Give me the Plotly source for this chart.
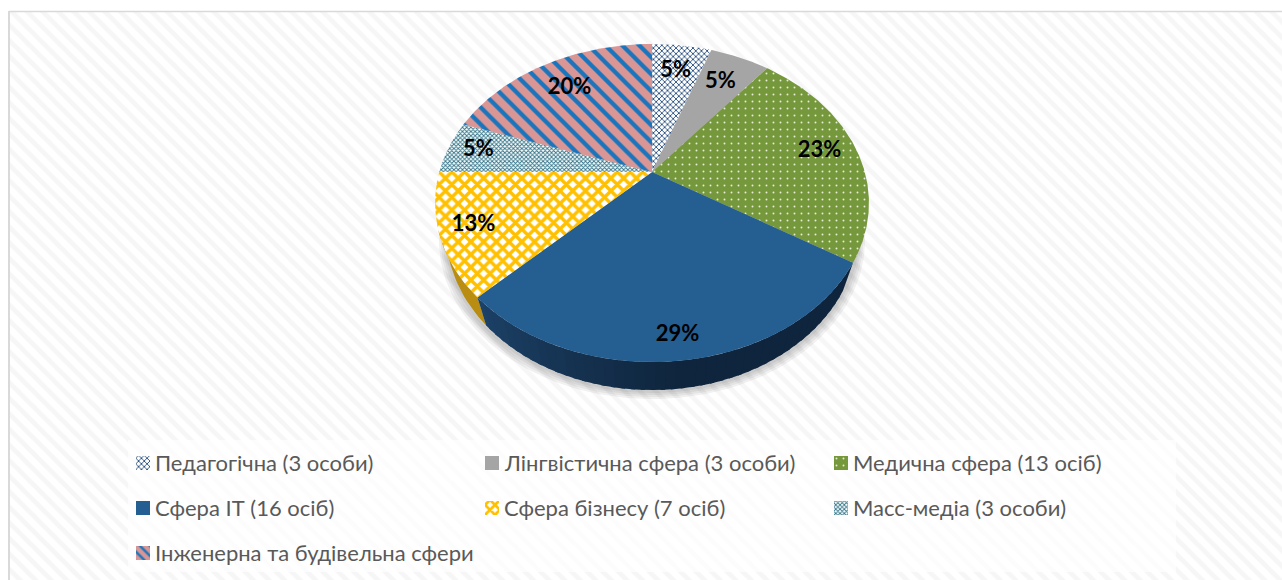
import numpy as np
import plotly.graph_objects as go

# ---- data ----
categories = ["Педагогічна (3 особи)", "Лінгвістична сфера (3 особи)", "Медична сфера (13 осіб)",
              "Сфера ІТ (16 осіб)", "Сфера бізнесу (7 осіб)", "Масс-медіа (3 особи)",
              "Інженерна та будівельна сфери"]
values = [3, 3, 13, 16, 7, 3, 11]

# ---- style ----
patterns = [
    dict(shape="x", fgcolor="#264d7e", bgcolor="#ffffff", size=4, solidity=0.4, fgopacity=1),
    None,
    dict(shape=".", fgcolor="#e6ecd6", bgcolor="#76983c", size=7, solidity=0.06, fgopacity=1),
    None,
    dict(shape="x", fgcolor="#ffc000", bgcolor="#ffffff", size=9, solidity=0.62, fgopacity=1),
    dict(shape="x", fgcolor="#2f7388", bgcolor="#ffffff", size=3, solidity=0.5, fgopacity=1),
    dict(shape="\\", fgcolor="#1b75bc", bgcolor="#d99694", size=12, solidity=0.36, fgopacity=1),
]
solid = ["#ffffff", "#a5a5a5", "#76983c", "#255e91", "#ffc000", "#7fb0bd", "#d99694"]
label_radius = [0.76, 0.75, 0.82, 0.89, 0.85, 0.85, 0.75]
FONT = "Lato, 'Noto Sans', sans-serif"

# ---- pie geometry: a tilted disc seen in perspective ----
CX, CY = 652.0, 172.0
A, B, K = 212.8, 153.0, 0.195
DEPTH, SHRINK = 28.0, 0.95


def project(theta_deg, r=1.0, scale=1.0, dy=0.0):
    t = np.radians(theta_deg)
    u, v = r * np.sin(t), -r * np.cos(t)
    den = 1 - K * v
    return CX + scale * A * u / den, CY + B * v / den + dy


def frac_angles():
    total = sum(values)
    c = np.cumsum([0] + values) / total * 360
    return c[:-1], c[1:]


def poly(xs, ys, **kw):
    xs, ys = list(xs), list(ys)
    return go.Scatter(x=xs + xs[:1], y=ys + ys[:1], mode="lines", line=dict(width=0),
                      fill="toself", hoverinfo="skip", showlegend=False, **kw)


def rect(x0, y0, x1, y1, **kw):
    return poly([x0, x1, x1, x0], [y0, y0, y1, y1], **kw)


fig = go.Figure()

# backdrop
fig.add_trace(rect(9, 12, 1282, 580, fillcolor="#ffffff",
                   fillpattern=dict(shape="\\", fgcolor="#f6f6f6", bgcolor="#ffffff", size=11,
                                    solidity=0.42, fgopacity=1)))
fig.add_trace(rect(128, 440, 1176, 572, fillcolor="rgba(255,255,255,0.7)"))

start, end = frac_angles()

# soft shadow under the disc
all_t = np.linspace(0, 360, 241)
for e, off in [(0.032, 9), (0.024, 7), (0.016, 5), (0.008, 3)]:
    x, y = project(all_t, scale=SHRINK + e, dy=DEPTH + off)
    fig.add_trace(poly(x, y, fillcolor="rgba(60,60,60,0.07)"))


def hex_mix(c1, c2, f):
    a = np.array([int(c1[i:i + 2], 16) for i in (1, 3, 5)])
    b = np.array([int(c2[i:i + 2], 16) for i in (1, 3, 5)])
    m = (a + (b - a) * f).astype(int)
    return "rgb(%d,%d,%d)" % tuple(m)


# side wall: business slice, then the IT slice in shaded steps
wall_t = np.linspace(start[4], end[4], 30)
wall_t = wall_t[wall_t <= 250]
tx, ty = project(wall_t)
bx, by = project(wall_t, scale=SHRINK, dy=DEPTH)
fig.add_trace(poly(np.r_[tx, bx[::-1]], np.r_[ty, by[::-1]], fillcolor="#b98c12"))

edges = np.linspace(start[3], end[3], 46)
for i in range(len(edges) - 1):
    seg = np.linspace(edges[i], min(edges[i + 1] + 1.0, end[3]), 5)
    tx, ty = project(seg)
    bx, by = project(seg, scale=SHRINK, dy=DEPTH)
    f = min(1.0, (len(edges) - 2 - i) / 22)
    fig.add_trace(poly(np.r_[tx, bx[::-1]], np.r_[ty, by[::-1]],
                       fillcolor=hex_mix("#1c4166", "#0f253d", f)))

# top surface slices
for i in range(len(values)):
    t = np.linspace(start[i], end[i], max(3, int(end[i] - start[i]) * 2))
    x, y = project(t)
    kw = dict(fillcolor=solid[i])
    if patterns[i]:
        kw["fillpattern"] = patterns[i]
    fig.add_trace(poly(np.r_[CX, x], np.r_[CY, y], name=categories[i], **kw))

# percentage labels
total = sum(values)
mids = (start + end) / 2
lx, ly = project(mids, r=np.array(label_radius))
pct = ["%d%%" % int(v / total * 100 + 0.5) for v in values]
fig.add_trace(go.Scatter(x=lx, y=ly, mode="text", text=pct, textposition="middle center",
                         textfont=dict(family=FONT, size=22, color="#000000", weight="bold"),
                         hoverinfo="skip", showlegend=False))

# legend, laid out in three columns
annotations = []
for i, name in enumerate(categories):
    col, row = i % 3, i // 3
    sx, sy = 136 + col * 349, 463 + row * 45
    kw = dict(fillcolor=solid[i] if i else "#ffffff")
    if patterns[i]:
        p = dict(patterns[i])
        p["size"] = min(p["size"], 7)
        kw["fillpattern"] = p
    fig.add_trace(rect(sx, sy - 7, sx + 14, sy + 7, **kw))
    annotations.append(dict(x=sx + 20, y=sy, xref="x", yref="y", text=name, showarrow=False,
                            xanchor="left", yanchor="middle", xshift=-3, yshift=1,
                            font=dict(family=FONT, size=22, color="#595959")))

fig.update_layout(
    width=1282, height=580, margin=dict(l=0, r=0, t=0, b=0),
    paper_bgcolor="#ffffff", plot_bgcolor="#ffffff", showlegend=False,
    xaxis=dict(range=[0, 1282], visible=False, fixedrange=True),
    yaxis=dict(range=[580, 0], visible=False, fixedrange=True),
    annotations=annotations,
    shapes=[
        dict(type="line", x0=9, x1=9, y0=11, y1=580, line=dict(color="#d9d9d9", width=2)),
        dict(type="line", x0=9, x1=1282, y0=11.5, y1=11.5, line=dict(color="#d9d9d9", width=1.5)),
    ],
)
fig.write_html("out.html", config={"displayModeBar": False},
               post_script="document.body.style.margin='0';"
               "document.documentElement.style.overflow='hidden';")
